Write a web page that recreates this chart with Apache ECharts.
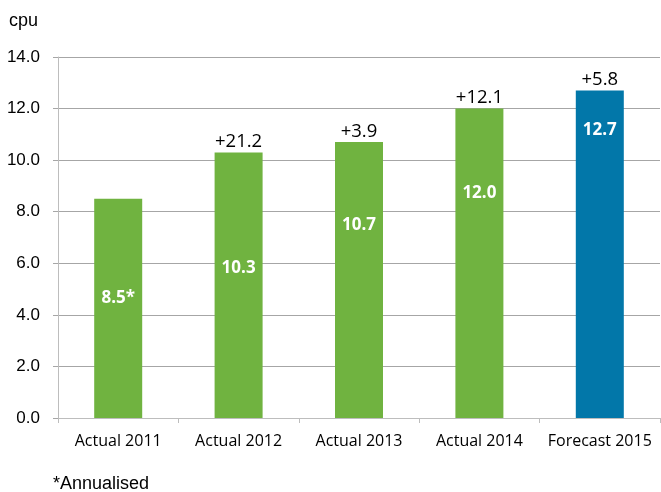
<!DOCTYPE html>
<html><head><meta charset="utf-8">
<script src="https://cdn.jsdelivr.net/npm/echarts@6/dist/echarts.min.js"></script>
<style>html,body{margin:0;padding:0;background:#fff}#c{width:661px;height:492px}</style>
</head><body><div id="c"></div>
<script>
const categories = ['Actual 2011','Actual 2012','Actual 2013','Actual 2014','Forecast 2015'];
const values = [8.5, 10.3, 10.7, 12.0, 12.7];
const valueLabels = ['8.5*','10.3','10.7','12.0','12.7'];
const changeLabels = ['', '+21.2', '+3.9', '+12.1', '+5.8'];
const barColors = ['#70b340','#70b340','#70b340','#70b340','#0277a9'];
const insideOffsets = [91, 107, 75, 76, 31];

const chart = echarts.init(document.getElementById('c'));
chart.setOption({
  animation: false,
  grid: {left: 58, right: 1, top: 57, bottom: 74},
  xAxis: {
    type: 'category', data: categories,
    axisLine: {lineStyle: {color: '#bdbdbd', width: 1}},
    axisTick: {show: true, length: 5, lineStyle: {color: '#bdbdbd'}},
    axisLabel: {color: '#000', fontFamily: 'Open Sans', fontSize: 16, margin: 15,
      interval: 0, hideOverlap: false}
  },
  yAxis: {
    type: 'value', min: 0, max: 14, interval: 2,
    axisLine: {show: true, lineStyle: {color: '#bdbdbd'}},
    axisTick: {show: true, length: 5, lineStyle: {color: '#a6a6a6'}},
    splitLine: {lineStyle: {color: '#a6a6a6'}},
    axisLabel: {color: '#000', fontFamily: 'Liberation Sans', fontSize: 17, margin: 18,
      formatter: v => v.toFixed(1)}
  },
  graphic: [
    {type: 'text', left: 9, top: 12, style: {text: 'cpu', font: '18px "Liberation Sans"', fill: '#000'}},
    {type: 'text', left: 53, top: 475, style: {text: '*Annualised', font: '18px "Liberation Sans"', fill: '#000'}}
  ],
  series: [
    {
      type: 'bar', barWidth: 48,
      data: values.map((v, i) => ({
        value: v,
        itemStyle: {color: barColors[i]},
        label: {show: true, position: 'insideTop', distance: insideOffsets[i],
          formatter: () => valueLabels[i], color: '#fff', fontWeight: 'bold',
          fontFamily: 'Open Sans', fontSize: 17}
      })),
      z: 2
    },
    {
      type: 'bar', barWidth: 48, barGap: '-100%',
      data: values.map((v, i) => ({
        value: v,
        itemStyle: {color: 'transparent'},
        label: {show: true, position: 'top', distance: 1,
          formatter: () => changeLabels[i], color: '#000',
          fontFamily: 'Open Sans', fontSize: 18.5}
      })),
      z: 3, silent: true
    }
  ]
});
</script></body></html>
